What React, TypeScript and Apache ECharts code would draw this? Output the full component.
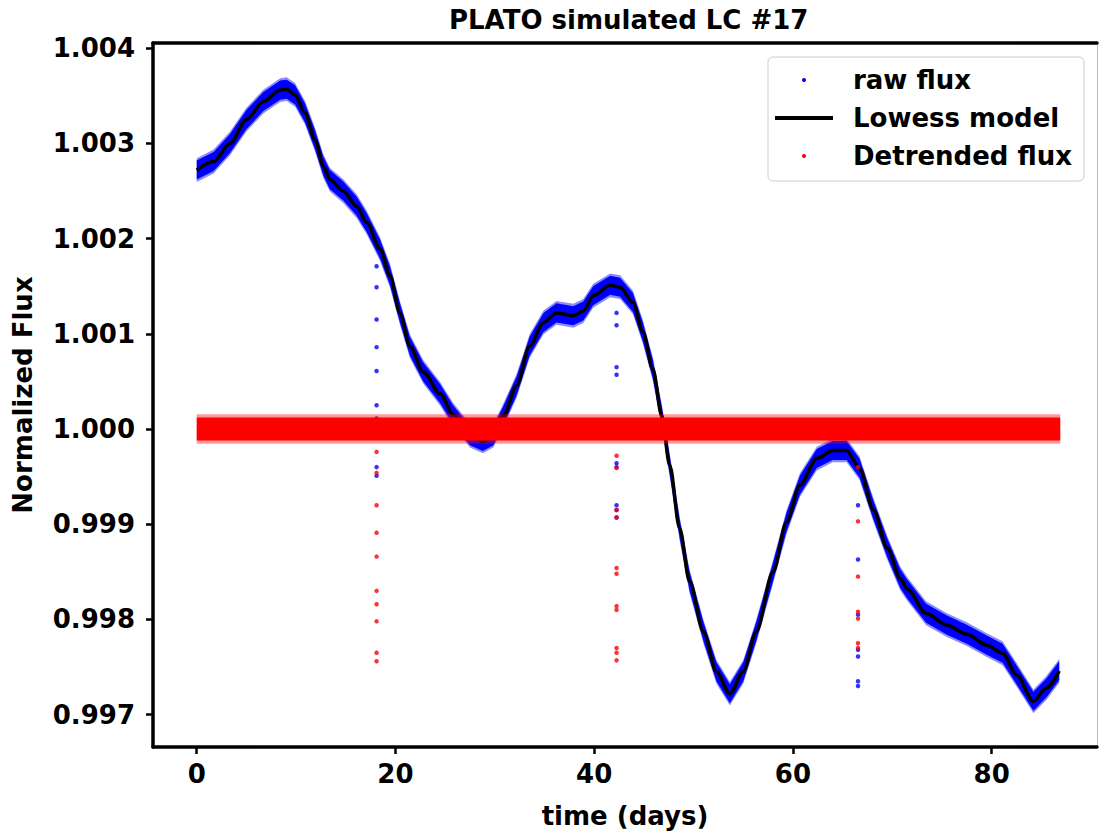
import React, { useEffect, useRef } from 'react';
import * as echarts from 'echarts';

// ---- data ----
const modelTime = [
  0, 1.7, 3.35, 5.0, 6.7, 8.4, 9.05, 9.9, 10.9, 11.9, 12.75, 13.4, 14.75, 16.1, 17.1, 18.45,
  19.45, 20.45, 21.45, 22.8, 24.5, 25.8, 27.5, 28.8, 29.85, 30.85, 32.2, 33.5, 34.9, 36.2,
  37.9, 38.9, 39.9, 41.6, 42.6, 43.9, 44.9, 45.9, 46.8, 47.6, 48.6, 49.6, 51.0, 52.3, 53.65,
  55.0, 56.3, 58.0, 59.35, 60.7, 62.4, 64.0, 65.4, 66.7, 68.1, 69.5, 70.8, 71.5, 73.4, 75.5,
  77.5, 79.5, 81.1, 82.5, 84.2, 85.5, 86.8,
];
const modelFlux = [
  1.00272, 1.00281, 1.003, 1.00325, 1.00344, 1.00356, 1.00357, 1.00351, 1.00332, 1.00304,
  1.00276, 1.00262, 1.0025, 1.00234, 1.00217, 1.00189, 1.00161, 1.00122, 1.00087, 1.0006,
  1.00037, 1.00015, 0.99993, 0.99987, 0.99993, 1.00014, 1.000455, 1.00087, 1.00112, 1.00122,
  1.00119, 1.00124, 1.0014, 1.00151, 1.00149, 1.00133, 1.00102, 1.00063, 1.00014, 0.99962,
  0.998955, 0.9984, 0.99787, 0.99745, 0.99722, 0.99745, 0.99787, 0.9985, 0.99902, 0.99941,
  0.99969, 0.999775, 0.999775, 0.99959, 0.99915, 0.99875, 0.99843, 0.99832, 0.998065, 0.99794,
  0.997845, 0.99773, 0.997645, 0.99742, 0.99714, 0.99728, 0.99746,
];
// scatter spread of the raw flux around the model (inner dense core / outer fringe)
const rawSpreadCore = 0.0001;
const rawSpreadFringe = 0.000125;
// detrended flux: flat level with its scatter
const detrendedTime = [0, 86.9];
const detrendedLevel = [1.0, 1.0];
const detSpreadCore = 0.00012;
const detSpreadFringe = 0.000155;
// in-transit points
const transitTimes = [18.1, 42.25, 66.55];
const rawTransit = [
  [1.00171, 1.00149, 1.00115, 1.00086, 1.00061, 1.00025, 1.00011, 0.99993, 0.9996, 0.99951],
  [1.00122, 1.00109, 1.00065, 1.00057, 1.00004, 0.99998, 0.99964, 0.9996, 0.9992, 0.99915, 0.99907],
  [0.9992, 0.99863, 0.99805, 0.99768, 0.99761, 0.99735, 0.9973],
];
const detTransit = [
  [0.99976, 0.99954, 0.9992, 0.99891, 0.99866, 0.9983, 0.99816, 0.99798, 0.99765, 0.99756],
  [0.99972, 0.99959, 0.99915, 0.99907, 0.99854, 0.99848, 0.99814, 0.9981, 0.9977, 0.99765, 0.99757],
  [0.9996, 0.99903, 0.99845, 0.99808, 0.99801, 0.99775, 0.9977],
];
const xTicks = [0, 20, 40, 60, 80];
const yTicks = [0.997, 0.998, 0.999, 1.0, 1.001, 1.002, 1.003, 1.004];

const FONT = 'DejaVu Sans';
const BLUE = '#0000ff';
const RED = '#ff0000';

function band(name: string, times: number[], centers: number[], half: number, color: string, opacity: number, z: number) {
  return {
    type: 'custom',
    name,
    z,
    silent: true,
    coordinateSystem: 'cartesian2d',
    data: [[times[0], centers[0]]],
    encode: { x: 0, y: 1 },
    renderItem: (_p: any, api: any) => {
      const upper = times.map((t, i) => api.coord([t, centers[i] + half]));
      const lower = times.map((t, i) => api.coord([t, centers[i] - half])).reverse();
      return {
        type: 'polygon',
        shape: { points: upper.concat(lower) },
        style: { fill: color, opacity },
      };
    },
  };
}

function transitPoints(values: number[][]) {
  const out: number[][] = [];
  values.forEach((arr, k) => arr.forEach((v) => out.push([transitTimes[k], v])));
  return out;
}

export default function App() {
  const ref = useRef<HTMLDivElement>(null);
  useEffect(() => {
    if (!ref.current) return;
    const chart = echarts.init(ref.current, undefined, { renderer: 'svg' });
    const labelStyle = { fontFamily: FONT, fontWeight: 'bold' as const, fontSize: 26, color: '#000' };
    chart.setOption({
      animation: false,
      backgroundColor: '#ffffff',
      title: {
        text: 'PLATO simulated LC #17',
        left: 444,
        top: 2,
        textStyle: { ...labelStyle, fontSize: 26 },
      },
      grid: { left: 153, right: 2, top: 43, bottom: 85 },
      legend: {
        left: 768,
        top: 57,
        orient: 'vertical',
        itemWidth: 58,
        itemHeight: 4,
        itemGap: 8,
        padding: [8, 12, 10, 7],
        backgroundColor: 'rgba(255,255,255,0.8)',
        borderColor: '#cccccc',
        borderWidth: 1,
        borderRadius: 5,
        textStyle: { ...labelStyle, lineHeight: 30, padding: [0, 0, 0, 15] },
        data: [
          { name: 'raw flux', icon: 'circle', itemStyle: { color: BLUE } },
          { name: 'Lowess model', icon: 'rect', itemStyle: { color: '#000' } },
          { name: 'Detrended flux', icon: 'circle', itemStyle: { color: RED } },
        ],
      },
      xAxis: [
        {
          type: 'value',
          min: -4.4,
          max: 90.6,
          position: 'bottom',
          axisLine: { onZero: false, lineStyle: { color: '#000', width: 3.5 } },
          axisTick: { customValues: xTicks, length: 7, lineStyle: { color: '#000', width: 2.5 } },
          axisLabel: { customValues: xTicks, margin: 14, ...labelStyle },
          splitLine: { show: false },
          name: 'time (days)',
          nameLocation: 'middle',
          nameGap: 56,
          nameTextStyle: labelStyle,
        },
        {
          type: 'value',
          min: -4.4,
          max: 90.6,
          position: 'top',
          axisLine: { onZero: false, lineStyle: { color: '#000', width: 3.5 } },
          axisTick: { show: false },
          axisLabel: { show: false },
          splitLine: { show: false },
        },
      ],
      yAxis: [
        {
          type: 'value',
          min: 0.99666,
          max: 1.004055,
          position: 'left',
          axisLine: { onZero: false, lineStyle: { color: '#000', width: 3.5 } },
          axisTick: { customValues: yTicks, length: 7, lineStyle: { color: '#000', width: 2.5 } },
          axisLabel: {
            customValues: yTicks,
            margin: 18,
            formatter: (v: number) => v.toFixed(3),
            ...labelStyle,
          },
          splitLine: { show: false },
          name: 'Normalized Flux',
          nameLocation: 'middle',
          nameRotate: 90,
          nameGap: 117,
          nameTextStyle: labelStyle,
        },
        {
          type: 'value',
          min: 0.99666,
          max: 1.004055,
          position: 'right',
          axisLine: { onZero: false, lineStyle: { color: '#bbbbbb', width: 1 } },
          axisTick: { show: false },
          axisLabel: { show: false },
          splitLine: { show: false },
        },
      ],
      series: [
        band('raw flux', modelTime, modelFlux, rawSpreadFringe, BLUE, 0.45, 1),
        band('raw flux', modelTime, modelFlux, rawSpreadCore, BLUE, 1, 1),
        {
          type: 'scatter',
          name: 'raw flux',
          z: 1,
          symbolSize: 4.5,
          itemStyle: { color: BLUE },
          data: transitPoints(rawTransit),
        },
        {
          type: 'line',
          name: 'Lowess model',
          z: 2,
          showSymbol: false,
          smooth: 0.3,
          smoothMonotone: 'x',
          lineStyle: { color: '#000', width: 3.5 },
          itemStyle: { color: '#000' },
          data: modelTime.map((t, i) => [t, modelFlux[i]]),
        },
        band('Detrended flux', detrendedTime, detrendedLevel, detSpreadFringe, RED, 0.4, 3),
        band('Detrended flux', detrendedTime, detrendedLevel, detSpreadCore, RED, 1, 3),
        {
          type: 'scatter',
          name: 'Detrended flux',
          z: 3,
          symbolSize: 4.5,
          itemStyle: { color: RED },
          data: transitPoints(detTransit),
        },
      ],
    });
    return () => chart.dispose();
  }, []);
  return (
    <div
      ref={ref}
      style={{ position: 'absolute', left: 0, top: 0, width: 1099, height: 834 }}
    />
  );
}
